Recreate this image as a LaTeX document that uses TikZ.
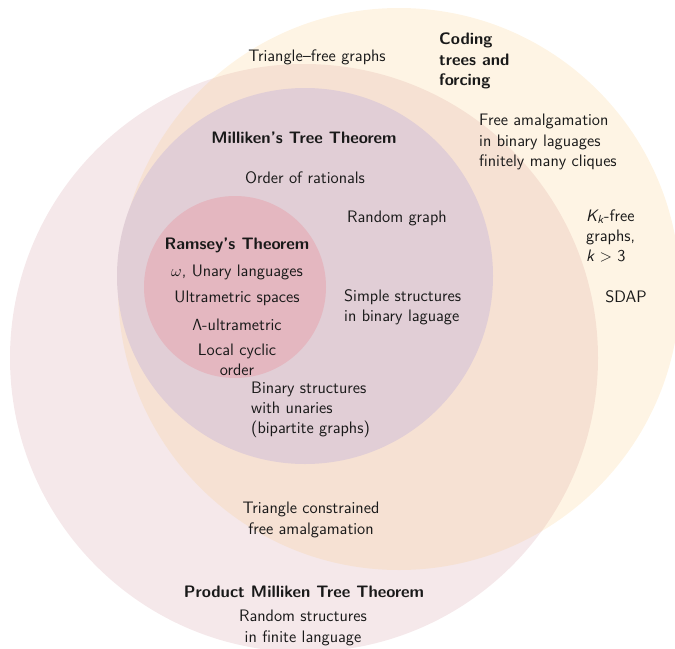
\documentclass[tikz,border=0pt]{standalone}
\usetikzlibrary{positioning}

\definecolor{prodpink}{RGB}{245,232,234}
\definecolor{codeyel}{RGB}{250,200,120}
\definecolor{millpurple}{RGB}{225,206,214}
\definecolor{ramseyred}{RGB}{228,183,192}

\tikzset{
  lbl/.style={font=\sffamily\fontsize{11.3}{13.8}\selectfont,align=center,text=black!90},
  ttl/.style={lbl,font=\sffamily\bfseries\fontsize{11.3}{13.8}\selectfont},
}

\begin{document}
\begin{tikzpicture}[x=0.68pt,y=-0.68pt]
\useasboundingbox (0,0) rectangle (675,648);
\clip (0,0) rectangle (675,648);

% the four classes
\fill[prodpink] (304,358) circle (294);
\fill[codeyel,opacity=0.2] (399,289) circle (281);
\fill[millpurple] (305,276) circle (188);
\fill[ramseyred] (235,287) circle (91);

% coding trees
\node[lbl] (trifree) at (317,57) {Triangle--free graphs};
\node[ttl,anchor=west,align=left] (coding) at (434,61) {Coding\\trees and\\forcing};
\node[lbl,anchor=west,align=left] (freeamalg) at (474,142) {Free amalgamation\\in binary laguages\\finitely many cliques};
\node[lbl,anchor=west,align=left] (kfree) at (581,236) {\itshape K\textsubscript{k}\upshape-free\\graphs,\\\itshape k\upshape~$>$~3};
\node[lbl] (sdap) at (626,297) {SDAP};

% Milliken
\node[ttl] (milliken) at (304,138) {Milliken's Tree Theorem};
\node[lbl] (rationals) at (305,178) {Order of rationals};
\node[lbl,anchor=west] (rgraph) at (342,218) {Random graph};
\node[lbl,anchor=west,align=left] (simple) at (339,307) {Simple structures\\in binary laguage};
\node[lbl,anchor=west,align=left] (binary) at (246,410) {Binary structures\\with unaries\\(bipartite graphs)};

% Ramsey
\node[ttl] (ramsey) at (237,245) {Ramsey's Theorem};
\node[lbl] (unary) at (237,272) {$\omega$, Unary languages};
\node[lbl] (ultra) at (237,298) {Ultrametric spaces};
\node[lbl] (lambda) at (237,325) {$\mathsf{\Lambda}$-ultrametric};
\node[lbl] (cyclic) at (237,360) {Local cyclic\\order};

% product Milliken
\node[lbl] (triconstr) at (311,520) {Triangle constrained\\free amalgamation};
\node[ttl] (product) at (304,592) {Product Milliken Tree Theorem};
\node[lbl] (randstruct) at (303,628) {Random structures\\in finite language};

\end{tikzpicture}
\end{document}
